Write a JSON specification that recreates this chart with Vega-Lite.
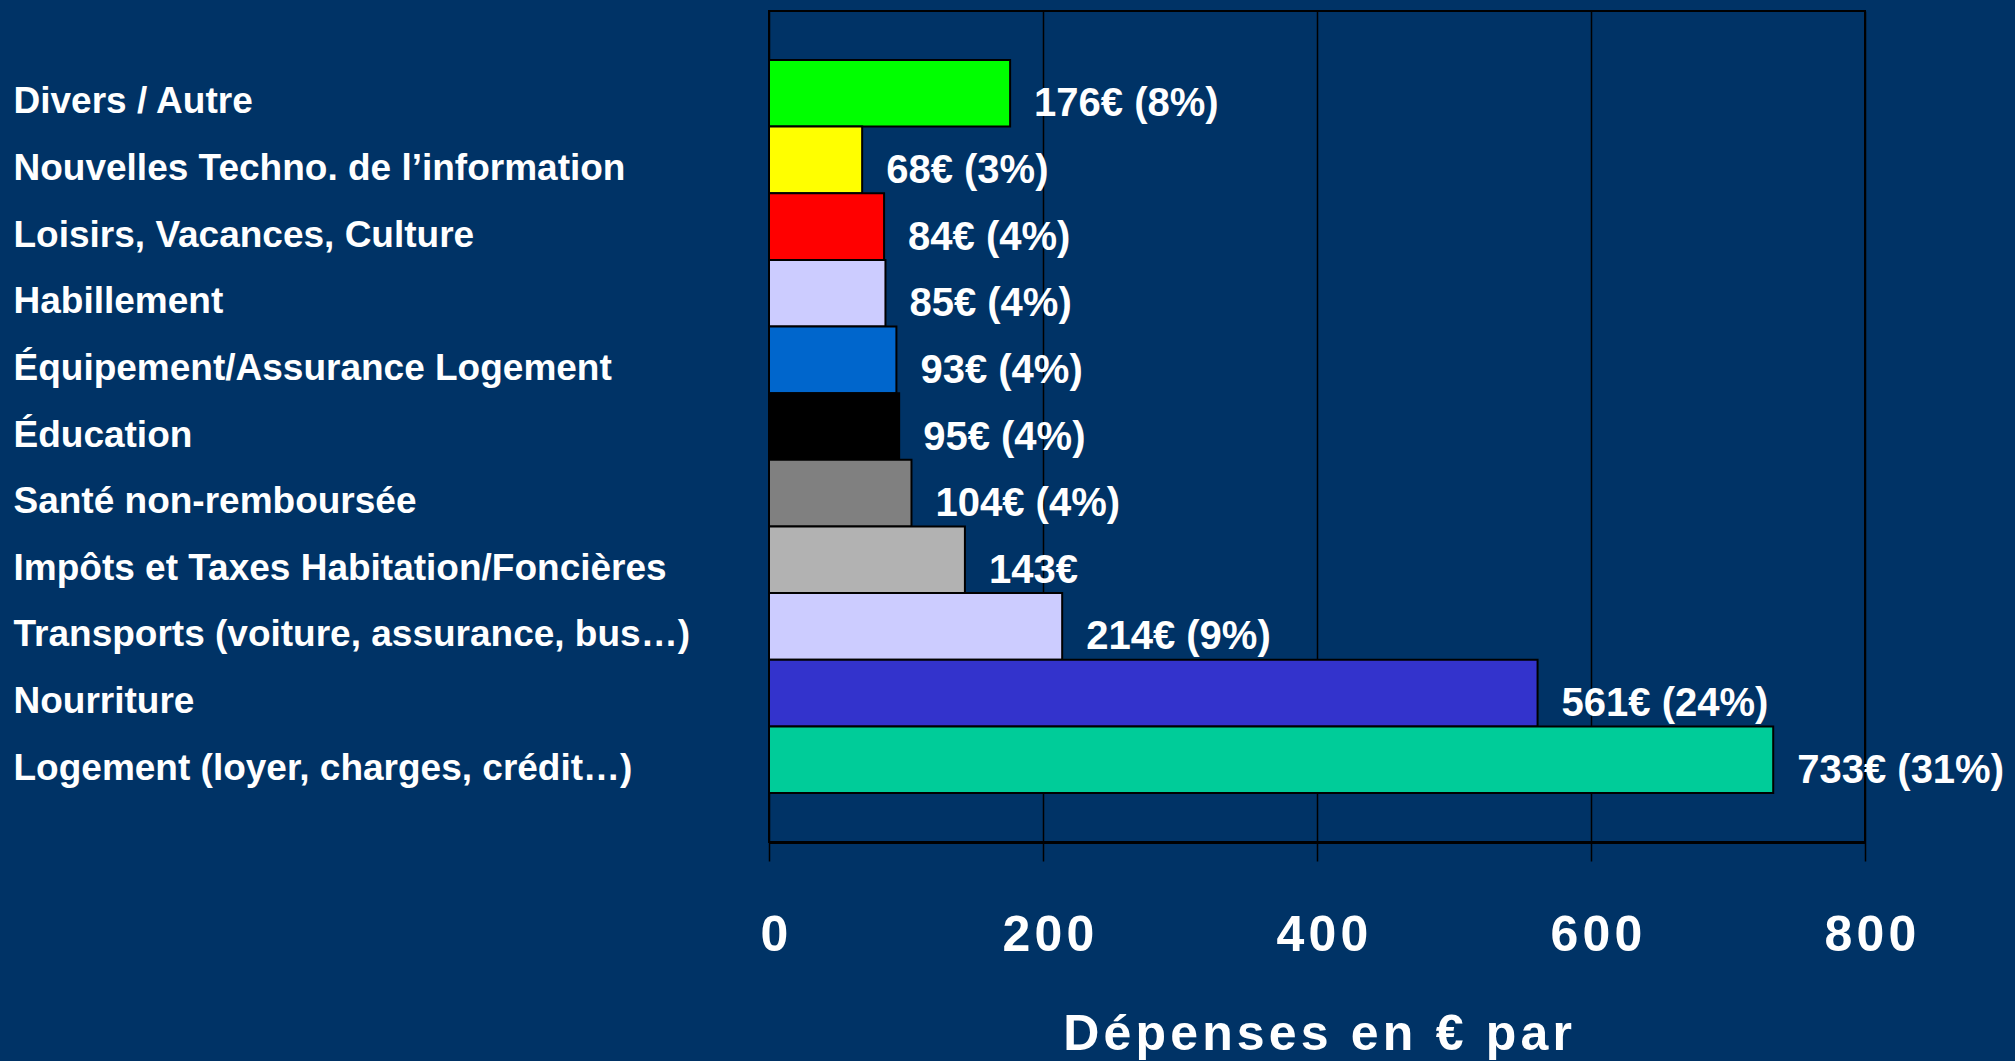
{
  "$schema": "https://vega.github.io/schema/vega-lite/v6.json",
  "autosize": {"type": "none"},
  "padding": {"left": 769, "top": 11, "right": 150, "bottom": 219},
  "width": 1096,
  "height": 831,
  "background": "#003366",
  "config": {"view": {"stroke": "#000000", "strokeWidth": 2}},
  "data": {"values": [
    {"cat": "Divers / Autre", "value": 176, "label": "176€ (8%)"},
    {"cat": "Nouvelles Techno. de l’information", "value": 68, "label": "68€ (3%)"},
    {"cat": "Loisirs, Vacances, Culture", "value": 84, "label": "84€ (4%)"},
    {"cat": "Habillement", "value": 85, "label": "85€ (4%)"},
    {"cat": "Équipement/Assurance Logement", "value": 93, "label": "93€ (4%)"},
    {"cat": "Éducation", "value": 95, "label": "95€ (4%)"},
    {"cat": "Santé non-remboursée", "value": 104, "label": "104€ (4%)"},
    {"cat": "Impôts et Taxes Habitation/Foncières", "value": 143, "label": "143€"},
    {"cat": "Transports (voiture, assurance, bus…)", "value": 214, "label": "214€ (9%)"},
    {"cat": "Nourriture", "value": 561, "label": "561€ (24%)"},
    {"cat": "Logement (loyer, charges, crédit…)", "value": 733, "label": "733€ (31%)"}
  ]},
  "encoding": {
    "y": {
      "field": "cat", "type": "nominal", "sort": null,
      "scale": {"paddingInner": 0, "paddingOuter": 0.735},
      "axis": {
        "title": null, "domain": false, "ticks": false, "grid": false,
        "labelAlign": "left", "labelBaseline": "middle", "labelPadding": 756, "labelOffset": 9,
        "labelFont": "Liberation Sans", "labelFontWeight": "bold", "labelFontSize": 37,
        "labelColor": "#ffffff", "labelLimit": 1000
      }
    },
    "x": {
      "field": "value", "type": "quantitative",
      "scale": {"domain": [0, 800], "nice": false},
      "axis": {
        "values": [0, 200, 400, 600, 800],
        "grid": true, "gridColor": "#000000", "gridWidth": 1.5, "gridOpacity": 1,
        "domain": true, "domainColor": "#000000", "domainWidth": 3,
        "ticks": true, "tickColor": "#000000", "tickWidth": 1.5, "tickSize": 19,
        "labelFont": "Liberation Sans", "labelFontWeight": "bold", "labelFontSize": 50,
        "labelColor": "#ffffff", "labelBaseline": "alphabetic", "labelPadding": 89, "labelOffset": 5,
        "labelFlush": false, "labelOverlap": false, "labelBound": false,
        "labelExpr": "join(split(datum.label, ''), '\u200a')",
        "title": "D\u200aé\u200ap\u200ae\u200an\u200as\u200ae\u200as\u200a \u200ae\u200an\u200a \u200a€\u200a \u200ap\u200aa\u200ar",
        "titleFont": "Liberation Sans", "titleFontWeight": "bold", "titleFontSize": 50,
        "titleColor": "#ffffff", "titleBaseline": "alphabetic", "titleAlign": "center",
        "titleX": 548, "titleY": 207
      }
    }
  },
  "layer": [
    {
      "mark": {"type": "bar", "stroke": "#000000", "strokeWidth": 2},
      "encoding": {
        "color": {
          "field": "cat", "type": "nominal", "legend": null,
          "scale": {
            "domain": ["Divers / Autre", "Nouvelles Techno. de l’information", "Loisirs, Vacances, Culture", "Habillement", "Équipement/Assurance Logement", "Éducation", "Santé non-remboursée", "Impôts et Taxes Habitation/Foncières", "Transports (voiture, assurance, bus…)", "Nourriture", "Logement (loyer, charges, crédit…)"],
            "range": ["#00ff00", "#ffff00", "#ff0000", "#ccccff", "#0066cc", "#000000", "#808080", "#b2b2b2", "#ccccff", "#3333cc", "#00cc99"]
          }
        }
      }
    },
    {
      "mark": {"type": "text", "align": "left", "baseline": "middle", "dx": 24, "dy": 11,
               "font": "Liberation Sans", "fontWeight": "bold", "fontSize": 40, "color": "#ffffff"},
      "encoding": {"text": {"field": "label"}}
    }
  ]
}
